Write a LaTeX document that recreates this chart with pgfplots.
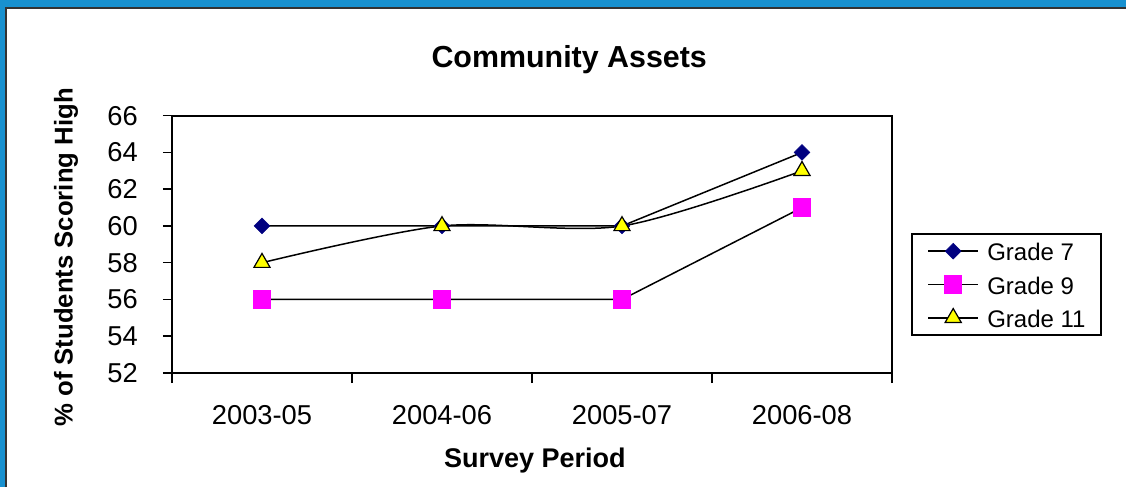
\documentclass[border=0pt]{standalone}
\usepackage{pgfplots}
\pgfplotsset{compat=1.18}
\usepackage{fontspec}
\setmainfont{Liberation Sans}
\definecolor{frameblue}{RGB}{24,145,208}
\definecolor{navy}{RGB}{0,0,128}
\definecolor{pink9}{RGB}{255,0,255}
\definecolor{yel11}{RGB}{255,255,0}

\begin{document}
\begin{tikzpicture}
% 1 px of the reference = 1pt; axis lower left corner at (0,0)
\useasboundingbox (-172pt,-114pt) rectangle (954pt,373pt);
\fill[frameblue] (-172pt,-114pt) rectangle (954pt,373pt);
\fill[white] (-166pt,-114pt) rectangle (954pt,365pt);
\draw[black!80, line width=1.5pt] (-166pt,-114pt) -- (-166pt,365pt) -- (954pt,365pt);
\begin{axis}[
    scale only axis,
    width=720pt, height=257.3pt,
    xmin=0.5, xmax=4.5,
    ymin=52, ymax=66,
    xtick={1,2,3,4},
    xticklabels={2003-05,2004-06,2005-07,2006-08},
    minor xtick={0.5,1.5,2.5,3.5,4.5},
    ytick={52,54,...,66},
    xtick pos=bottom, ytick pos=left,
    tick align=outside,
    major tick length=9pt,
    minor tick length=10pt,
    major x tick style={draw=none},
    tick style={line width=1.5pt, black},
    axis line style={line width=2pt},
    /pgf/number format/assume math mode=true,
    ticklabel style={font=\fontsize{27.3}{32}\selectfont},
    yticklabel style={anchor=east, inner sep=0pt, xshift=-25pt},
    xticklabel style={anchor=base, inner sep=0pt, yshift=-42.7pt},
    title={Community Assets},
    title style={at={(axis description cs:0.5517,1.2328)}, anchor=center, yshift=-10pt,
        font=\fontsize{30.4}{36}\selectfont\bfseries},
    xlabel={Survey Period},
    xlabel style={at={(axis description cs:0.504,-0.334)}, anchor=center, yshift=-2pt,
        font=\fontsize{27}{32}\selectfont\bfseries},
    ylabel={\% of Students Scoring High},
    ylabel style={at={(axis description cs:-0.147,0.449)}, anchor=center,
        font=\fontsize{25.7}{30}\selectfont\bfseries},
    legend image code/.code={
        \draw[mark repeat=2, mark phase=2] plot coordinates {(0pt,0pt) (25pt,0pt) (50pt,0pt)};
    },
    legend cell align=left,
    legend style={
        at={(axis description cs:1.0264,0.5429)}, anchor=north west,
        draw=black, line width=1.5pt,
        inner xsep=15.7pt, inner ysep=2.6pt,
        column sep=8.3pt, row sep=4.2pt,
        font=\fontsize{24}{29}\selectfont,
        nodes={inner sep=0pt, text height=24.1pt, text depth=5pt},
    },
]
\addplot[black, line width=1.5pt, mark=square*, mark size=5.6pt,
    mark options={rotate=45, fill=navy, draw=navy, line width=0.5pt}]
    coordinates {(1,60) (2,60) (3,60) (4,64)};
\addplot[black, line width=1.5pt, mark=square*, mark size=8.6pt,
    mark options={fill=pink9, draw=pink9, line width=0pt}]
    coordinates {(1,56) (2,56) (3,56) (4,61)};
\addplot[black, line width=1.5pt, smooth, mark=triangle*, mark size=9.3pt,
    mark options={fill=yel11, draw=black, line width=1.2pt}]
    coordinates {(1,58) (2,60) (3,60) (4,63)};
\legend{Grade 7, Grade 9, Grade 11}
\end{axis}
\end{tikzpicture}
\end{document}
